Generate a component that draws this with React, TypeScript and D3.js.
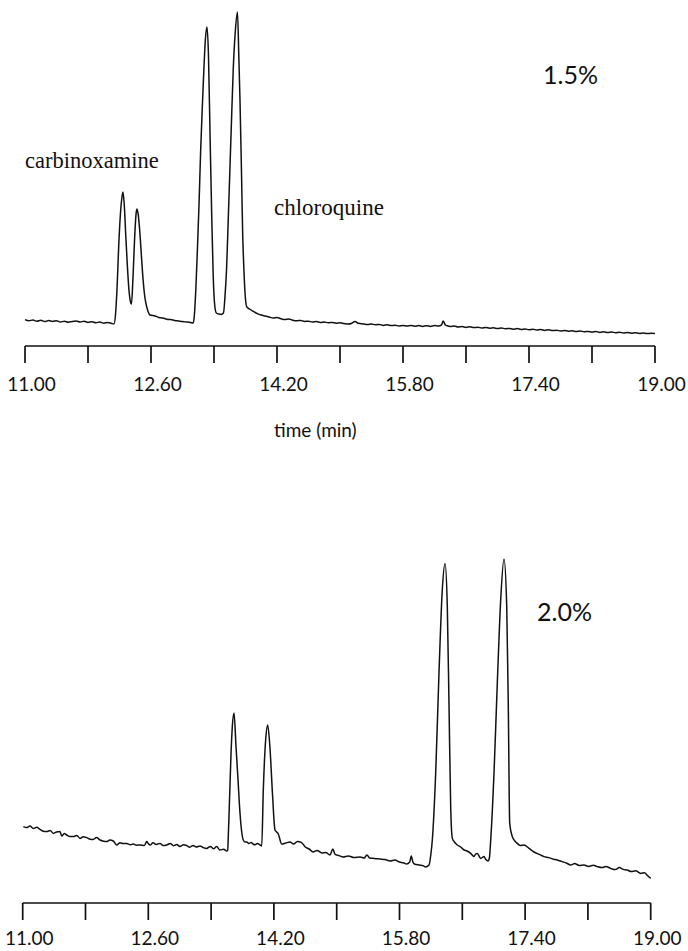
import React from "react";
import * as d3 from "d3";

// time axis (min)
const tickValues = [11.0, 11.8, 12.6, 13.4, 14.2, 15.0, 15.8, 16.6, 17.4, 18.2, 19.0];
const tickLabels = ["11.00", "12.60", "14.20", "15.80", "17.40", "19.00"];
const labeledTicks = [11.0, 12.6, 14.2, 15.8, 17.4, 19.0];

// chromatogram at 1.5% : [time (min), detector signal (a.u.)]
const trace15: [number, number][] = [
  [11.0, 8.2], [11.05, 7.6], [11.1, 8.0], [11.15, 7.4], [11.2, 7.9], [11.25, 7.2], [11.3, 7.7], [11.35, 7.3],
  [11.4, 7.6], [11.45, 7.0], [11.5, 7.4], [11.55, 6.9], [11.6, 7.3], [11.65, 7.5], [11.7, 7.0], [11.75, 7.4],
  [11.8, 6.8], [11.85, 7.1], [11.9, 6.6], [11.95, 7.0], [12.0, 6.4], [12.05, 6.8], [12.1, 6.3], [12.13, 6.0],
  [12.15, 11], [12.17, 25], [12.19, 45], [12.21, 60], [12.23, 69], [12.244, 72], [12.26, 66], [12.28, 50],
  [12.3, 35], [12.32, 23], [12.34, 17], [12.352, 16],
  [12.37, 28], [12.39, 47], [12.41, 61], [12.422, 63.5], [12.44, 60], [12.46, 51], [12.48, 39], [12.5, 28],
  [12.52, 20], [12.545, 14.7], [12.565, 12], [12.587, 10.5], [12.65, 10], [12.7, 9.3], [12.75, 9], [12.8, 8.4],
  [12.85, 8.2], [12.9, 7.8], [12.95, 7.5], [13.0, 7.2], [13.05, 7.0], [13.1, 6.8], [13.135, 6.5],
  [13.15, 10], [13.17, 24], [13.19, 44], [13.21, 66], [13.23, 92], [13.25, 113], [13.27, 132], [13.29, 148],
  [13.311, 154.5], [13.33, 140], [13.35, 100], [13.37, 62], [13.39, 30], [13.41, 15], [13.43, 11.5],
  [13.46, 11], [13.49, 10.8], [13.52, 11.5],
  [13.54, 20], [13.56, 34], [13.58, 57], [13.6, 81], [13.62, 105], [13.645, 134], [13.67, 152], [13.698, 162],
  [13.715, 140], [13.73, 118], [13.75, 80], [13.764, 51.5], [13.78, 33], [13.794, 21.5], [13.815, 14.7],
  [13.85, 13.5], [13.9, 12.3], [13.95, 11.2], [14.0, 10.5], [14.05, 10], [14.1, 9.5], [14.15, 9], [14.2, 9.2],
  [14.25, 8.6], [14.3, 8.2], [14.35, 8.5], [14.4, 7.9], [14.45, 7.6], [14.5, 7.8], [14.55, 7.3], [14.6, 7.4],
  [14.65, 7.0], [14.7, 7.2], [14.75, 6.8], [14.8, 7.0], [14.85, 6.6], [14.9, 6.8], [14.95, 6.4], [15.0, 6.6],
  [15.05, 6.3], [15.1, 6.0], [15.15, 6.4], [15.19, 7.3], [15.23, 6.4], [15.3, 6.0], [15.35, 5.7], [15.4, 6.0],
  [15.45, 5.6], [15.5, 5.8], [15.55, 5.3], [15.6, 5.6], [15.65, 5.2], [15.7, 5.4], [15.75, 5.0], [15.8, 5.3],
  [15.85, 5.0], [15.9, 5.3], [15.95, 4.9], [16.0, 5.2], [16.05, 4.8], [16.1, 5.1], [16.15, 4.8], [16.2, 5.2],
  [16.25, 5.0], [16.29, 5.6], [16.31, 7.5], [16.34, 5.4], [16.4, 4.8], [16.45, 5.0], [16.5, 4.5], [16.55, 4.7],
  [16.6, 4.3], [16.65, 4.6], [16.7, 4.2], [16.75, 4.4], [16.8, 4.0], [16.85, 4.3], [16.9, 3.9], [16.95, 4.1],
  [17.0, 3.7], [17.05, 4.0], [17.1, 3.6], [17.15, 3.8], [17.2, 3.4], [17.25, 3.7], [17.3, 3.3], [17.35, 3.5],
  [17.4, 3.1], [17.45, 3.4], [17.5, 3.0], [17.55, 3.2], [17.6, 2.8], [17.65, 3.1], [17.7, 2.7], [17.75, 2.9],
  [17.8, 2.5], [17.85, 2.8], [17.9, 2.4], [17.95, 2.6], [18.0, 2.2], [18.05, 2.5], [18.1, 2.1], [18.15, 2.3],
  [18.2, 1.9], [18.25, 2.3], [18.3, 1.8], [18.35, 2.1], [18.4, 1.7], [18.45, 2.0], [18.5, 1.6], [18.55, 1.9],
  [18.6, 1.5], [18.65, 1.8], [18.7, 1.4], [18.75, 1.6], [18.8, 1.3], [18.85, 1.5], [18.9, 1.2], [18.95, 1.4],
  [19.0, 1.2],
];

// chromatogram at 2.0% : [time (min), detector signal (a.u.)]
const trace20: [number, number][] = [
  [11.008, 33.7], [11.05, 33.2], [11.093, 34], [11.135, 32.8], [11.18, 33.4], [11.22, 32.3], [11.26, 31.4],
  [11.306, 31.2], [11.35, 31.8], [11.39, 30.3], [11.43, 31], [11.475, 31.2], [11.497, 29], [11.53, 30.2],
  [11.561, 29.5], [11.6, 28.7], [11.645, 28.7], [11.69, 29.3], [11.73, 27.8], [11.77, 28.6], [11.815, 28.2],
  [11.86, 27.4], [11.899, 27.3], [11.94, 28.2], [11.985, 27], [12.03, 26.4], [12.07, 26.2], [12.11, 27],
  [12.154, 26.5], [12.197, 24.5], [12.24, 25.6], [12.28, 25.2], [12.325, 25.3], [12.37, 24.6], [12.409, 25],
  [12.45, 24.4], [12.494, 24.5], [12.55, 24.3], [12.58, 26.2], [12.6, 25.2], [12.622, 24.5], [12.66, 25.6],
  [12.7, 24.8], [12.749, 25.3], [12.79, 24.2], [12.834, 24.5], [12.88, 25.3], [12.92, 24.1], [12.962, 24.8],
  [13.0, 23.8], [13.05, 24.6], [13.089, 24.2], [13.13, 23.4], [13.17, 24.3], [13.21, 23.5], [13.259, 24],
  [13.3, 23.2], [13.344, 22.8], [13.39, 23.8], [13.43, 22.6], [13.471, 23.7], [13.513, 22], [13.56, 22.4],
  [13.599, 21.5],
  [13.611, 21.8], [13.62, 30], [13.632, 43.7], [13.654, 70.5], [13.67, 83.5], [13.692, 90.5], [13.717, 74],
  [13.743, 57], [13.768, 40.5], [13.79, 31], [13.81, 27], [13.83, 26], [13.854, 26], [13.88, 25.2],
  [13.91, 25.8], [13.934, 25], [13.96, 24.6], [13.99, 25.2], [14.023, 24.5], [14.045, 24],
  [14.065, 52], [14.095, 77], [14.121, 84.5], [14.15, 73], [14.182, 50], [14.214, 32], [14.235, 31],
  [14.256, 30], [14.299, 25], [14.35, 25.5], [14.405, 26], [14.45, 25], [14.5, 26.3], [14.553, 25.7],
  [14.6, 23.5], [14.65, 22.5], [14.698, 21], [14.75, 21.8], [14.81, 20.5], [14.86, 20.8], [14.915, 19.5],
  [14.95, 22.5], [14.98, 19.8], [15.03, 19.2], [15.08, 18.5], [15.15, 19], [15.22, 18.2], [15.3, 18.5],
  [15.35, 18], [15.385, 19.5], [15.42, 18], [15.48, 17.8], [15.55, 17.5], [15.62, 17.2], [15.68, 16.5],
  [15.74, 17], [15.8, 16], [15.85, 15.6], [15.89, 15], [15.93, 16], [15.95, 19], [15.97, 16], [15.99, 15],
  [16.05, 14.5], [16.1, 14.2], [16.13, 13.5], [16.176, 14.5],
  [16.2, 20], [16.218, 27], [16.261, 60.5], [16.303, 110.5], [16.345, 152], [16.38, 165.3], [16.409, 143.7],
  [16.431, 93.7], [16.452, 43.7], [16.473, 27.8], [16.5, 26], [16.536, 24.5], [16.58, 23.5], [16.622, 22],
  [16.66, 21.5], [16.707, 20.3], [16.749, 18.7], [16.77, 20], [16.791, 20.3], [16.834, 17.8], [16.876, 18.7],
  [16.9, 17.2], [16.927, 16.5],
  [16.945, 18], [16.962, 27], [17.004, 60.5], [17.046, 105.5], [17.089, 147], [17.131, 167.5],
  [17.166, 143.7], [17.186, 93.7], [17.204, 35.3], [17.237, 28.7], [17.27, 26.5], [17.301, 25.3],
  [17.34, 24.2], [17.386, 24.5], [17.45, 22.8], [17.513, 21], [17.58, 19.8], [17.641, 18.7], [17.7, 18.2],
  [17.76, 17.4], [17.81, 17], [17.87, 16.2], [17.93, 15.4], [17.981, 14.5], [18.03, 15.2], [18.09, 14.3],
  [18.15, 14.5], [18.21, 13.8], [18.27, 14.4], [18.32, 13.7], [18.38, 13.2], [18.43, 13.8], [18.49, 12.8],
  [18.55, 12.2], [18.6, 13.2], [18.65, 12.3], [18.702, 12], [18.75, 11.2], [18.81, 11.6], [18.873, 10.3],
  [18.92, 10.6], [18.96, 9.2], [19.0, 7.8],
];

const W = 688;
const H = 951;
const SANS = "Lato, 'Noto Sans', sans-serif";
const SERIF = "'Liberation Serif', 'DejaVu Serif', serif";

type PanelProps = {
  data: [number, number][];
  xRange: [number, number];
  yRange: [number, number];
  axisY: number;
  labelOffset: number;
};

function Panel({ data, xRange, yRange, axisY, labelOffset }: PanelProps) {
  const x = d3.scaleLinear().domain([11, 19]).range(xRange);
  const y = d3.scaleLinear().domain([0, 160]).range(yRange);
  const line = d3
    .line<[number, number]>()
    .x((d) => x(d[0]))
    .y((d) => y(d[1]))
    .curve(d3.curveMonotoneX);
  return (
    <g>
      <path d={line(data) || ""} fill="none" stroke="#111" strokeWidth={1.5} strokeLinejoin="round" />
      <line x1={x(11)} x2={x(19)} y1={axisY} y2={axisY} stroke="#111" strokeWidth={1.7} />
      {tickValues.map((t) => (
        <line key={t} x1={x(t)} x2={x(t)} y1={axisY} y2={axisY + 17} stroke="#111" strokeWidth={1.7} />
      ))}
      {labeledTicks.map((t, i) => (
        <text
          key={t}
          x={x(t) + 6.5}
          y={axisY + labelOffset}
          textAnchor="middle"
          fontFamily={SANS}
          fontSize={19}
          fill="#111"
        >
          {tickLabels[i]}
        </text>
      ))}
    </g>
  );
}

export default function App() {
  return (
    <svg
      width={W}
      height={H}
      viewBox={`0 0 ${W} ${H}`}
      style={{ position: "absolute", left: 0, top: 0, background: "#fff" }}
    >
      <rect width={W} height={H} fill="#fff" />
      <Panel data={trace15} xRange={[25, 655]} yRange={[336, 16]} axisY={346} labelOffset={45} />
      <Panel data={trace20} xRange={[22.7, 650.7]} yRange={[894, 574]} axisY={903} labelOffset={42} />
      <text x={25} y={168} fontFamily={SERIF} fontSize={22.5} fill="#111">carbinoxamine</text>
      <text x={274} y={215} fontFamily={SERIF} fontSize={23} fill="#111">chloroquine</text>
      <text x={543} y={84} fontFamily={SANS} fontSize={25} fill="#111">1.5%</text>
      <text x={537} y={621} fontFamily={SANS} fontSize={25} fill="#111">2.0%</text>
      <text x={274} y={437} fontFamily={SANS} fontSize={19} fill="#111">time (min)</text>
    </svg>
  );
}
